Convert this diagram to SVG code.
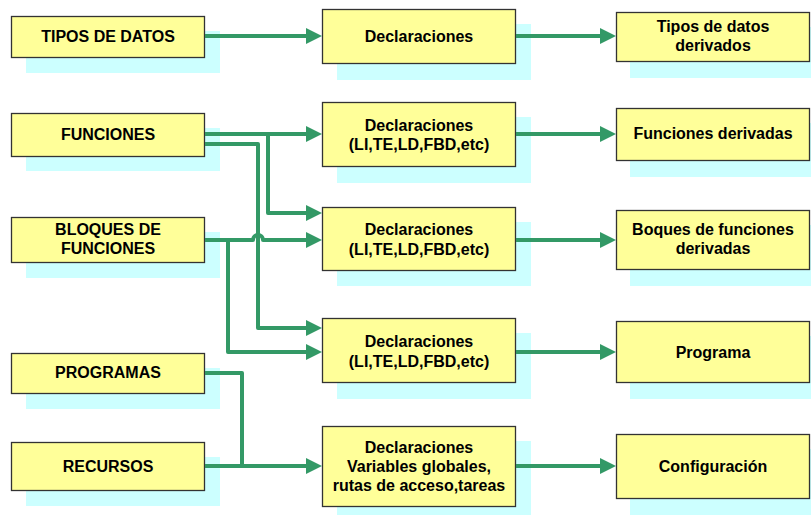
<svg xmlns="http://www.w3.org/2000/svg" width="811" height="515" viewBox="0 0 811 515">
  <style>
    .shadow { fill: #CCFFFF; }
    .box { fill: #FFFF99; stroke: #333333; stroke-width: 1.3; }
    .lbl { font-family: "Liberation Sans", Arial, sans-serif; font-size: 16px; font-weight: bold; fill: #000000; text-anchor: middle; }
    .wire { fill: none; stroke: #339966; stroke-width: 4; stroke-linejoin: round; }
  </style>
  <defs>
    <marker id="arrow" markerUnits="userSpaceOnUse" markerWidth="17" markerHeight="17" refX="4" refY="8" orient="auto">
      <path d="M0,0 L16,8 L0,16 z" fill="#339966"/>
    </marker>
  </defs>
  <rect width="811" height="515" fill="#FFFFFF"/>

  <!-- left column -->
  <g id="tipos-de-datos">
    <rect class="shadow" x="26" y="31" width="194" height="42"/>
    <rect class="box" x="11.5" y="16.5" width="193" height="41"/>
    <text class="lbl" x="108" y="41.5">TIPOS DE DATOS</text>
  </g>
  <g id="funciones">
    <rect class="shadow" x="26" y="128" width="194" height="43"/>
    <rect class="box" x="11.5" y="113.5" width="193" height="43"/>
    <text class="lbl" x="108" y="139.5">FUNCIONES</text>
  </g>
  <g id="bloques-de-funciones">
    <rect class="shadow" x="26" y="232" width="194" height="46"/>
    <rect class="box" x="11.5" y="217.5" width="193" height="45"/>
    <text class="lbl" x="108" y="235">BLOQUES DE</text>
    <text class="lbl" x="108" y="254">FUNCIONES</text>
  </g>
  <g id="programas">
    <rect class="shadow" x="26" y="368" width="194" height="41"/>
    <rect class="box" x="11.5" y="353.5" width="193" height="40"/>
    <text class="lbl" x="108" y="378">PROGRAMAS</text>
  </g>
  <g id="recursos">
    <rect class="shadow" x="26" y="457" width="194" height="49"/>
    <rect class="box" x="11.5" y="442.5" width="193" height="48"/>
    <text class="lbl" x="108" y="472">RECURSOS</text>
  </g>

  <!-- middle column -->
  <g id="declaraciones-tipos">
    <rect class="shadow" x="337" y="24" width="194" height="56"/>
    <rect class="box" x="322.5" y="9.5" width="193" height="54"/>
    <text class="lbl" x="419" y="42">Declaraciones</text>
  </g>
  <g id="declaraciones-funciones">
    <rect class="shadow" x="337" y="117" width="194" height="66"/>
    <rect class="box" x="322.5" y="102.5" width="193" height="64"/>
    <text class="lbl" x="419" y="130.5">Declaraciones</text>
    <text class="lbl" x="419" y="150">(LI,TE,LD,FBD,etc)</text>
  </g>
  <g id="declaraciones-bloques">
    <rect class="shadow" x="337" y="222" width="194" height="64"/>
    <rect class="box" x="322.5" y="207.5" width="193" height="63"/>
    <text class="lbl" x="419" y="235">Declaraciones</text>
    <text class="lbl" x="419" y="254.5">(LI,TE,LD,FBD,etc)</text>
  </g>
  <g id="declaraciones-programa">
    <rect class="shadow" x="337" y="333" width="194" height="66"/>
    <rect class="box" x="322.5" y="318.5" width="193" height="64"/>
    <text class="lbl" x="419" y="347">Declaraciones</text>
    <text class="lbl" x="419" y="366.5">(LI,TE,LD,FBD,etc)</text>
  </g>
  <g id="declaraciones-configuracion">
    <rect class="shadow" x="337" y="441" width="194" height="82"/>
    <rect class="box" x="322.5" y="426.5" width="193" height="80"/>
    <text class="lbl" x="419" y="452.5">Declaraciones</text>
    <text class="lbl" x="419" y="471.5">Variables globales,</text>
    <text class="lbl" x="419" y="490.5">rutas de acceso,tareas</text>
  </g>

  <!-- right column -->
  <g id="tipos-derivados">
    <rect class="shadow" x="630" y="27" width="194" height="51"/>
    <rect class="box" x="616.5" y="12.5" width="193" height="49"/>
    <text class="lbl" x="713" y="32">Tipos de datos</text>
    <text class="lbl" x="713" y="51">derivados</text>
  </g>
  <g id="funciones-derivadas">
    <rect class="shadow" x="630" y="123" width="194" height="54"/>
    <rect class="box" x="616.5" y="108.5" width="193" height="52"/>
    <text class="lbl" x="713" y="139">Funciones derivadas</text>
  </g>
  <g id="bloques-derivados">
    <rect class="shadow" x="630" y="225" width="194" height="61"/>
    <rect class="box" x="616.5" y="210.5" width="193" height="59"/>
    <text class="lbl" x="713" y="235">Boques de funciones</text>
    <text class="lbl" x="713" y="254">derivadas</text>
  </g>
  <g id="programa">
    <rect class="shadow" x="630" y="336" width="194" height="63"/>
    <rect class="box" x="616.5" y="321.5" width="193" height="61"/>
    <text class="lbl" x="713" y="357.5">Programa</text>
  </g>
  <g id="configuracion">
    <rect class="shadow" x="630" y="449" width="194" height="66"/>
    <rect class="box" x="616.5" y="434.5" width="193" height="64"/>
    <text class="lbl" x="713" y="471.5">Configuración</text>
  </g>

  <!-- connectors -->
  <g id="connectors">
    <path class="wire" d="M205,36 H310" marker-end="url(#arrow)"/>
    <path class="wire" d="M516,36 H604" marker-end="url(#arrow)"/>

    <path class="wire" d="M205,134 H310" marker-end="url(#arrow)"/>
    <path class="wire" d="M268,134 V213 H310" marker-end="url(#arrow)"/>
    <path class="wire" d="M205,144 H258 V328 H310" marker-end="url(#arrow)"/>

    <path class="wire" d="M228,240 V352 H310" marker-end="url(#arrow)"/>
    <path class="wire" d="M205,240 H253 A5,5 0 0 1 263,240 H310" marker-end="url(#arrow)"/>

    <path class="wire" d="M205,373 H242 V466"/>
    <path class="wire" d="M205,466 H310" marker-end="url(#arrow)"/>

    <path class="wire" d="M516,134 H604" marker-end="url(#arrow)"/>
    <path class="wire" d="M516,240 H604" marker-end="url(#arrow)"/>
    <path class="wire" d="M516,352 H604" marker-end="url(#arrow)"/>
    <path class="wire" d="M516,466 H604" marker-end="url(#arrow)"/>
  </g>
</svg>
